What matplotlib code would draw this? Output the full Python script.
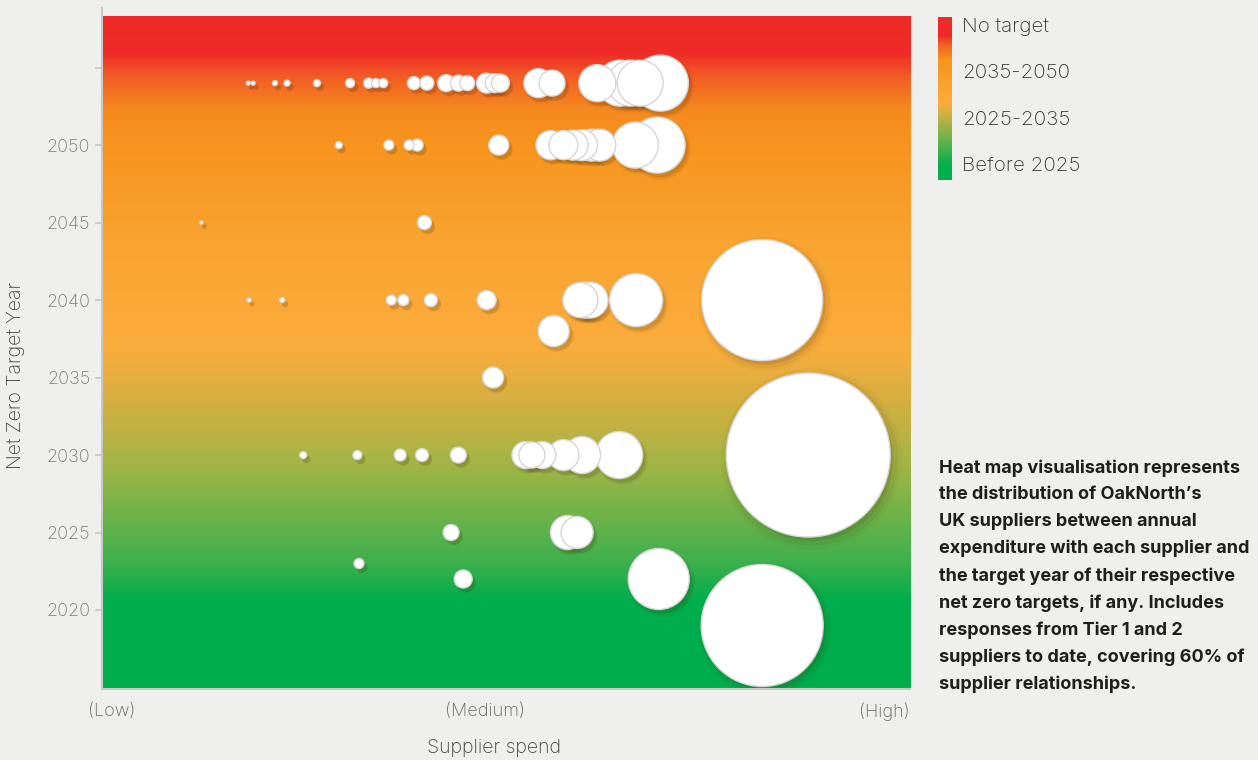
import numpy as np
import matplotlib
matplotlib.use("Agg")
import matplotlib.pyplot as plt
from matplotlib.colors import LinearSegmentedColormap
from matplotlib.transforms import offset_copy

# --- data (spend on a 0-100 relative scale) ---
no_target_spend = [18.1, 18.7, 21.4, 22.9, 26.6, 30.7, 33.0, 33.9, 34.8, 38.6, 40.2, 42.6,
                   44.1, 45.2, 47.6, 48.6, 49.3, 54.0, 55.7, 61.3, 64.1, 65.4, 66.6, 69.1]
no_target_size = [4, 4, 5, 6, 7, 9, 10, 9, 9, 13, 14, 17,
                  16, 15, 20, 19, 18, 29, 26, 37, 46, 46, 46, 56]

target_year = [2050] * 13 + [2045] * 2 + [2040] * 11 + [2038, 2035] + [2030] * 12 \
    + [2025] * 3 + [2023, 2022, 2022, 2019]
target_spend = [29.3, 35.5, 38.0, 39.0, 49.1, 55.5, 57.1, 58.3, 59.4, 60.6, 61.6, 66.0, 68.7,
                12.3, 39.9,
                18.2, 22.3, 35.8, 37.3, 40.7, 47.6, 59.2, 59.8, 60.4, 66.1, 81.7,
                55.9, 48.4,
                24.9, 31.6, 36.9, 39.6, 44.1, 52.4, 53.2, 54.5, 57.1, 59.4, 64.0, 87.4,
                43.2, 57.6, 58.8,
                31.8, 44.7, 68.9, 81.7]
target_size = [7, 10, 10, 12, 20, 29, 29, 30, 31, 32, 32, 46, 56,
               3, 14,
               4, 5, 10, 11, 13, 19, 35, 36, 36, 53, 121,
               31, 21,
               7, 9, 12, 13, 16, 27, 26, 27, 31, 37, 47, 164,
               16, 34, 32,
               10, 18, 61, 122]

year_ticks = [2020, 2025, 2030, 2035, 2040, 2045, 2050, 2055]
year_labels = ["2020", "2025", "2030", "2035", "2040", "2045", "2050", ""]
spend_ticks = [1.2, 47.4, 96.8]
spend_labels = ["(Low)", "(Medium)", "(High)"]
legend_labels = ["No target", "2035-2050", "2025-2035", "Before 2025"]

note = ("Heat map visualisation represents\n"
        "the distribution of OakNorth\u2019s\n"
        "UK suppliers between annual\n"
        "expenditure with each supplier and\n"
        "the target year of their respective\n"
        "net zero targets, if any. Includes\n"
        "responses from Tier 1 and 2\n"
        "suppliers to date, covering 60% of\n"
        "supplier relationships.")

NO_TARGET_ROW = 2054
Y_MIN, Y_TOP, Y_MAX = 2014.9, 2058.3, 2058.85

plt.rcParams["font.family"] = ["Inter", "DejaVu Sans"]

fig = plt.figure(figsize=(12.58, 7.6), dpi=100, facecolor="#EFEFED")
ax = fig.add_axes([0.0811, 0.0934, 0.6423, 0.8961])
ax.set_facecolor("#EFEFED")

# background gradient (year -> colour)
grad_stops = [(2014.9, "#00AD4E"), (2020.5, "#00AE4D"), (2023.0, "#3DB04C"),
              (2026.0, "#6EB34A"), (2029.0, "#9DB546"), (2032.0, "#C5B143"),
              (2035.0, "#E6AE40"), (2037.0, "#FBAD3D"), (2044.0, "#F9A330"),
              (2050.0, "#F7951E"), (2052.3, "#F68A1F"), (2054.3, "#F26125"),
              (2056.0, "#EE2C27"), (2058.3, "#EE2A28")]
cmap = LinearSegmentedColormap.from_list(
    "bg", [((y - Y_MIN) / (Y_TOP - Y_MIN), c) for y, c in grad_stops])
ax.imshow(np.linspace(0, 1, 600).reshape(-1, 1), cmap=cmap, aspect="auto",
          origin="lower", extent=[0, 100, Y_MIN, Y_TOP], zorder=0,
          interpolation="bilinear")

# bubbles, biggest first so the small ones sit on top
xs = np.array(no_target_spend + target_spend)
ys = np.array([NO_TARGET_ROW] * len(no_target_spend) + target_year, dtype=float)
ds = np.array(no_target_size + target_size, dtype=float)
order = np.argsort(-ds, kind="stable")
xs, ys, ds = xs[order], ys[order], ds[order]
area = (ds * 0.72) ** 2

shadow_tr = offset_copy(ax.transData, fig=fig, x=3, y=-4, units="dots")
for grow, alpha in [(1.22, 0.035), (1.12, 0.06), (1.0, 0.11)]:
    ax.scatter(xs, ys, s=area * grow + 6, color="#3A2000", alpha=alpha,
               linewidths=0, transform=shadow_tr, zorder=2)
ax.scatter(xs, ys, s=area, color="white", edgecolors="#D6D6D6",
           linewidths=1.0, zorder=3)

ax.set_xlim(0, 100)
ax.set_ylim(Y_MIN, Y_MAX)
ax.set_yticks(year_ticks)
ax.set_yticklabels(year_labels)
ax.set_xticks(spend_ticks)
ax.set_xticklabels(spend_labels)
ax.tick_params(axis="y", length=5, width=1.2, color="#C8C8C8", pad=3.5,
               labelsize=13, labelcolor="#7A7A7A")
ax.tick_params(axis="x", length=0, pad=10, labelsize=13, labelcolor="#666666")
for lab in ax.get_yticklabels() + ax.get_xticklabels():
    lab.set_fontweight("light")
for side in ["top", "right"]:
    ax.spines[side].set_visible(False)
for side in ["left", "bottom"]:
    ax.spines[side].set_color("#C8C8C8")
    ax.spines[side].set_linewidth(1.5)

fig.text(494 / 1258, 1 - 748 / 760, "Supplier spend", ha="center", va="center",
         fontsize=14, color="#444444", fontweight="light")
fig.text(16 / 1258, 1 - 375 / 760, "Net Zero Target Year", ha="center",
         va="center", rotation=90, fontsize=14, color="#444444",
         fontweight="light")

# legend colour bar
lax = fig.add_axes([938 / 1258, 1 - 180 / 760, 14 / 1258, 163 / 760])
leg_stops = [(0.0, "#00AE4D"), (0.08, "#00AE4D"), (0.245, "#6AB34B"),
             (0.37, "#B8B245"), (0.47, "#FBAD3D"), (0.74, "#F7941D"),
             (0.83, "#F26325"), (0.89, "#EE2A28"), (1.0, "#EE2A28")]
lcmap = LinearSegmentedColormap.from_list("leg", leg_stops)
lax.imshow(np.linspace(0, 1, 300).reshape(-1, 1), cmap=lcmap, aspect="auto",
           origin="lower", interpolation="bilinear")
lax.set_axis_off()
for lab, ypx in zip(legend_labels, [27, 73, 120, 166]):
    fig.text(962 / 1258, 1 - ypx / 760, lab, ha="left", va="center",
             fontsize=14.8, color="#333333", fontweight="light")

fig.text(939 / 1258, 1 - 459 / 760, note, ha="left", va="top", fontsize=13,
         fontweight="bold", color="#1E1E1E", linespacing=1.72)

fig.savefig("out.png", dpi=100, facecolor=fig.get_facecolor())
